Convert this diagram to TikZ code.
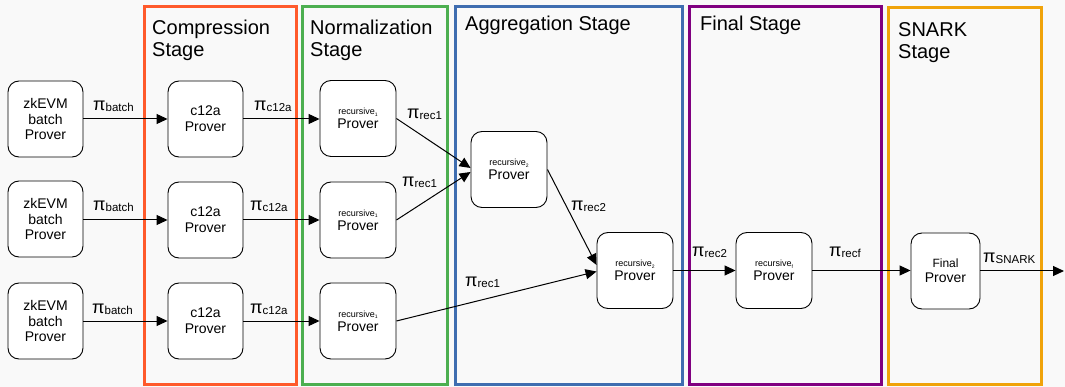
\documentclass[tikz,border=0pt]{standalone}
\usepackage{fontspec}
\setmainfont{Liberation Sans}
\usetikzlibrary{arrows.meta}

\definecolor{canvas}{HTML}{F9F9F9}
\definecolor{compc}{HTML}{FF5A2B}
\definecolor{normc}{HTML}{4CAF50}
\definecolor{aggc}{HTML}{3F6DB0}
\definecolor{finc}{HTML}{800080}
\definecolor{snarkc}{HTML}{F0A30A}

% proof symbol with its subscript
\newcommand{\piproof}[1]{{\fontsize{18}{18}\selectfont π}\raisebox{-1pt}{\fontsize{11.5}{12}\selectfont #1}}
% small "recursive" caption with its index
\newcommand{\recname}[1]{{\fontsize{9}{10}\selectfont recursive\raisebox{-1.3pt}{\fontsize{5}{5}\selectfont #1}}}

\tikzset{
  prover/.style={draw=black, line width=0.9pt, fill=white, rounded corners=11pt,
    minimum width=75pt, minimum height=76pt, inner sep=0pt, align=center,
    font=\fontsize{14}{15.7}\selectfont},
  stagebox/.style={line width=3pt},
  title/.style={anchor=base west, inner sep=0pt, align=left,
    font=\fontsize{20}{22}\selectfont},
  lbl/.style={anchor=base west, inner sep=0pt},
  arr/.style={line width=1pt, draw=black, -{Triangle[length=11pt,width=10pt]}},
}

\begin{document}
\begin{tikzpicture}[x=1pt, y=-1pt]
  % canvas
  \fill[canvas] (0,0) rectangle (1065,387);
  \useasboundingbox (0,0) rectangle (1065,387);

  % stage frames
  \draw[stagebox, compc]  (144.5,6.5) rectangle (296,384.5);
  \draw[stagebox, normc]  (302.5,6.5) rectangle (447.5,384.5);
  \draw[stagebox, aggc]   (455,6.5) rectangle (682,384.5);
  \draw[stagebox, finc]   (689.5,6.5) rectangle (881.5,384.5);
  \draw[stagebox, snarkc] (888.5,7.5) rectangle (1041,384.5);

  % stage titles (base anchor sits on the last line)
  \node[title] (tcomp)  at (152,57) {Compression\\Stage};
  \node[title] (tnorm)  at (310,57) {Normalization\\Stage};
  \node[title] (tagg)   at (465,31) {Aggregation Stage};
  \node[title] (tfin)   at (700,31) {Final Stage};
  \node[title] (tsnark) at (898,58.5) {SNARK\\Stage};

  % batch provers
  \node[prover] (z1) at (45.5,119) {zkEVM\\batch\\Prover};
  \node[prover] (z2) at (45.5,219) {zkEVM\\batch\\Prover};
  \node[prover] (z3) at (45.5,321) {zkEVM\\batch\\Prover};

  % compression provers
  \node[prover] (c1) at (205.5,119) {c12a\\Prover};
  \node[prover] (c2) at (205.5,220) {c12a\\Prover};
  \node[prover] (c3) at (205.5,321) {c12a\\Prover};

  % normalization provers
  \node[prover, minimum width=76pt] (n1) at (358,118.5) {\recname{1}\\[-2pt]Prover};
  \node[prover, minimum width=76pt] (n2) at (358,220) {\recname{1}\\[-2pt]Prover};
  \node[prover, minimum width=76pt] (n3) at (358,321) {\recname{1}\\[-2pt]Prover};

  % aggregation provers
  \node[prover, minimum width=76pt] (a1) at (509,169.5) {\recname{2}\\[-2pt]Prover};
  \node[prover, minimum width=76pt] (a2) at (635,270.5) {\recname{2}\\[-2pt]Prover};

  % final recursion and SNARK provers
  \node[prover, minimum width=76pt] (rf) at (774,270.5) {\recname{f}\\[-2pt]Prover};
  \node[prover, minimum width=69pt] (fp) at (945.5,271)
    {{\fontsize{12}{13}\selectfont Final}\\[-1pt]Prover};
  \coordinate (out) at (1064,271);

  % connectors
  \draw[arr] (z1) -- (c1);
  \draw[arr] (z2.east |- c2) -- (c2);
  \draw[arr] (z3) -- (c3);
  \draw[arr] (c1) -- (n1.west |- c1);
  \draw[arr] (c2) -- (n2);
  \draw[arr] (c3) -- (n3);
  \draw[arr] (n1.east) -- ([yshift=1.5pt]a1.west);
  \draw[arr] (n2.east) -- ([yshift=-2.5pt]a1.west);
  \draw[arr] (n3.east) -- ([yshift=-1pt]a2.west);
  \draw[arr] (a1.east) -- ([yshift=5.5pt]a2.west);
  \draw[arr] (a2) -- (rf);
  \draw[arr] (rf) -- (fp.west |- rf);
  \draw[arr] (fp) -- (out);

  % proof labels
  \node[lbl] (lb1) at (93,111) {\piproof{batch}};
  \node[lbl] (lb2) at (93,211) {\piproof{batch}};
  \node[lbl] (lb3) at (92,313) {\piproof{batch}};
  \node[lbl] (lc1) at (254,111) {\piproof{c12a}};
  \node[lbl] (lc2) at (250,211) {\piproof{c12a}};
  \node[lbl] (lc3) at (250,313) {\piproof{c12a}};
  \node[lbl] (lr1) at (407,119) {\piproof{rec1}};
  \node[lbl] (lr2) at (402,187) {\piproof{rec1}};
  \node[lbl] (lr3) at (465,287) {\piproof{rec1}};
  \node[lbl] (lr4) at (571,211) {\piproof{rec2}};
  \node[lbl] (lr5) at (692,257) {\piproof{rec2}};
  \node[lbl] (lrf) at (829,257) {\piproof{recf}};
  \node[lbl] (lsn) at (983,263) {\piproof{SNARK}};
\end{tikzpicture}
\end{document}
